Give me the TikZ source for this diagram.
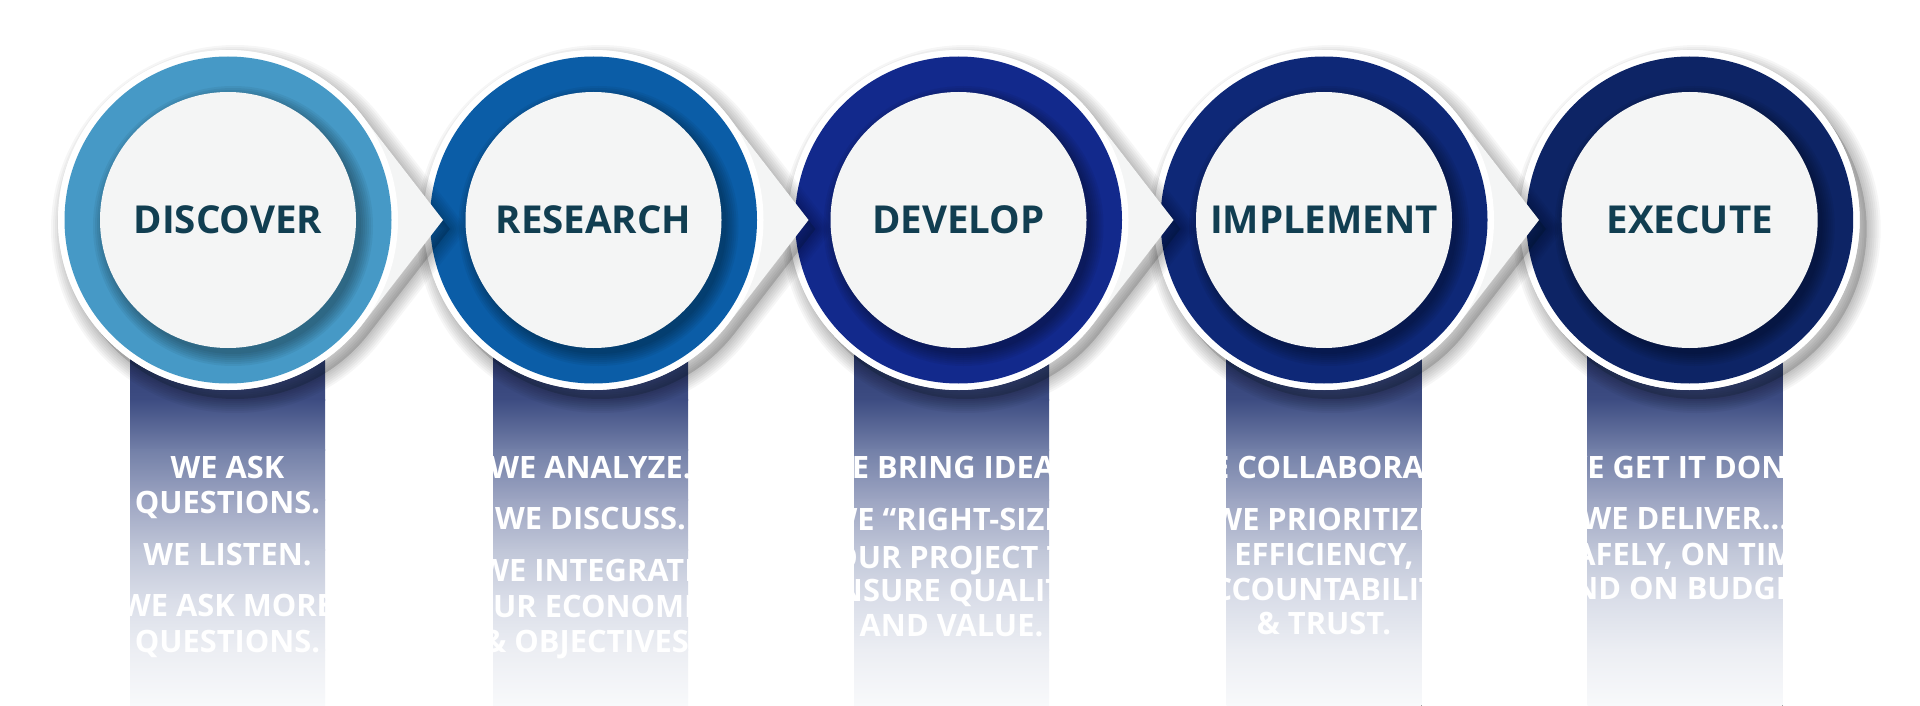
\documentclass[tikz,border=0pt]{standalone}
\usepackage{fontspec}
\setmainfont{Open Sans}
\definecolor{ringA}{HTML}{4699C6}
\definecolor{ringB}{HTML}{0B5DA7}
\definecolor{ringC}{HTML}{12298C}
\definecolor{ringD}{HTML}{0E2877}
\definecolor{ringE}{HTML}{0D2465}
\definecolor{innerfill}{HTML}{F4F5F5}
\definecolor{titlecol}{HTML}{113E51}
\definecolor{bzero}{HTML}{2A3970}
\definecolor{bone}{HTML}{3D4C82}
\definecolor{btwo}{HTML}{7380A8}
\definecolor{bthree}{HTML}{9DA5C2}
\definecolor{bfour}{HTML}{C0C6D8}
\definecolor{bfive}{HTML}{DADEE9}
\definecolor{bsix}{HTML}{ECEEF3}
\definecolor{bseven}{HTML}{F8F9FB}
\tikzset{
  titletext/.style={font=\bfseries\fontsize{38.5}{40}\selectfont, text=titlecol, inner sep=0pt},
  bodytext/.style={font=\bfseries\fontsize{30.8}{34}\selectfont, text=white, inner sep=0pt, anchor=base},
}
% teardrop path round centre x: circle radius 170, tip 215 to the right; acos(170/215)=37.75
\newcommand\tearpath[1]{(#1+215,220) -- ([shift={(#1,220)}]37.75:170) arc[start angle=37.75, end angle=322.25, radius=170] -- cycle}
\newcommand\roundpath[1]{(#1,220) circle[radius=170]}
\newcommand\drawband[1]{%
  \foreach \ya/\yb/\ca/\cb in {340/400/bzero/bone, 400/450/bone/btwo, 450/500/btwo/bthree, 500/550/bthree/bfour, 550/600/bfour/bfive, 600/650/bfive/bsix, 650/705/bsix/bseven}{%
    \fill[top color=\ca, bottom color=\cb] (#1-97.5,\ya-0.5) rectangle (#1+97.5,\yb+0.5);
  }%
}
% #1 centre x, #2 ring colour, #3 title, #4 node name, #5 outline macro
\newcommand\drawstep[5]{%
  \begin{scope}[shift={(7,9)}]
    \fill[black, opacity=0.16] #5{#1};
    \foreach \w in {4,8,12,16,20,24,28}{\draw[black, opacity=0.035, line width=\w pt, line join=round] #5{#1};}
  \end{scope}
  \fill[innerfill] #5{#1};
  \fill[white] (#1,220) circle[radius=170];
  \fill[#2] (#1,220) circle[radius=163.5];
  \begin{scope}
    \clip (#1,220) circle[radius=163.5];
    \foreach \k in {0,...,6}{\fill[black, opacity=0.05] (#1+5,220+6) circle[radius=128+\k*2];}
  \end{scope}
  \fill[innerfill] (#1,220) circle[radius=128];
  \node[titletext] (#4) at (#1,220) {#3};
}
\begin{document}
\begin{tikzpicture}[x=1pt,y=-1pt]
\useasboundingbox (0,0) rectangle (1920,706);
\fill[white] (0,0) rectangle (1920,706);
% bands
\drawband{227.5}
\drawband{590.5}
\drawband{951.5}
\drawband{1324}
\drawband{1685}
% circles, right to left so each pointer lies over the next circle
\drawstep{1689.7}{ringE}{EXECUTE}{execute}{\roundpath}
\drawstep{1324}{ringD}{IMPLEMENT}{implement}{\tearpath}
\drawstep{958.5}{ringC}{DEVELOP}{develop}{\tearpath}
\drawstep{593.5}{ringB}{RESEARCH}{research}{\tearpath}
\drawstep{228}{ringA}{DISCOVER}{discover}{\tearpath}
% band texts
\node[bodytext] (ta1) at (227.5,478) {WE ASK};
\node[bodytext] (ta2) at (227.5,513) {QUESTIONS.};
\node[bodytext] (ta3) at (227.5,565) {WE LISTEN.};
\node[bodytext] (ta4) at (227.5,616) {WE ASK MORE};
\node[bodytext] (ta5) at (227.5,652) {QUESTIONS.};
\node[bodytext] (tb1) at (590.5,478) {WE ANALYZE.};
\node[bodytext] (tb2) at (590.5,529) {WE DISCUSS.};
\node[bodytext] (tb3) at (590.5,581) {WE INTEGRATE};
\node[bodytext] (tb4) at (590.5,617) {YOUR ECONOMICS};
\node[bodytext] (tb5) at (590.5,652) {\& OBJECTIVES.};
\node[bodytext] (tc1) at (951.5,478) {WE BRING IDEAS.};
\node[bodytext] (tc2) at (951.5,530) {WE “RIGHT-SIZE”};
\node[bodytext] (tc3) at (951.5,568) {YOUR PROJECT TO};
\node[bodytext] (tc4) at (951.5,601) {ENSURE QUALITY};
\node[bodytext] (tc5) at (951.5,636) {AND VALUE.};
\node[bodytext] (td1) at (1324,478) {WE COLLABORATE.};
\node[bodytext] (td2) at (1324,530) {WE PRIORITIZE};
\node[bodytext] (td3) at (1324,565) {EFFICIENCY,};
\node[bodytext] (td4) at (1324,600) {ACCOUNTABILITY};
\node[bodytext] (td5) at (1324,634) {\& TRUST.};
\node[bodytext] (te1) at (1685,478) {WE GET IT DONE.};
\node[bodytext] (te2) at (1685,529) {WE DELIVER...};
\node[bodytext] (te3) at (1685,565) {SAFELY, ON TIME};
\node[bodytext] (te4) at (1685,599) {AND ON BUDGET.};
\end{tikzpicture}
\end{document}
